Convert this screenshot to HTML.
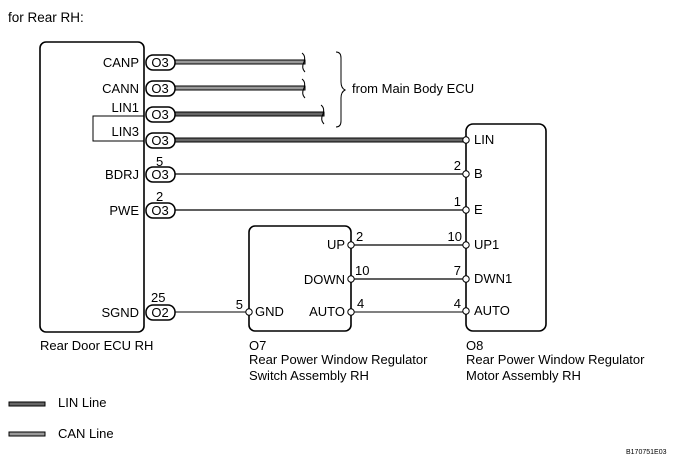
<!DOCTYPE html>
<html><head><meta charset="utf-8"><style>
html,body{margin:0;padding:0;background:#fff;}
svg{display:block;font-family:"Liberation Sans",Arial,sans-serif;}
text{font-size:13px;fill:#000;}
</style></head><body>
<svg width="680" height="461" viewBox="0 0 680 461">
<text x="8" y="22" style="font-size:13.5px">for Rear RH:</text>
<!-- ECU box -->
<rect x="40" y="42" width="104" height="290" rx="6" fill="none" stroke="#000" stroke-width="1.6"/>
<rect x="93" y="116" width="51" height="25" fill="none" stroke="#000" stroke-width="1"/>
<g text-anchor="end">
<text x="139" y="67">CANP</text>
<text x="139" y="93">CANN</text>
<text x="139" y="112">LIN1</text>
<text x="139" y="136">LIN3</text>
<text x="139" y="179">BDRJ</text>
<text x="139" y="215">PWE</text>
<text x="139" y="317">SGND</text>
</g>
<text x="156" y="166">5</text>
<text x="156" y="201">2</text>
<text x="151" y="302">25</text>
<!-- wires -->
<g fill="none" stroke="#000">
<rect x="175" y="60" width="130" height="4" fill="#999" stroke-width="1"/>
<rect x="175" y="86" width="130" height="4" fill="#999" stroke-width="1"/>
<rect x="175" y="112" width="149" height="4" fill="#666" stroke-width="1"/>
<rect x="175" y="138" width="291" height="4" fill="#666" stroke-width="1"/>
<line x1="175" y1="174" x2="466" y2="174" stroke-width="1.2"/>
<line x1="175" y1="210" x2="466" y2="210" stroke-width="1.2"/>
<line x1="175" y1="312" x2="249" y2="312" stroke-width="1"/>
<line x1="350" y1="245" x2="466" y2="245" stroke-width="1.2"/>
<line x1="350" y1="279" x2="466" y2="279" stroke-width="1.2"/>
<line x1="350" y1="312" x2="466" y2="312" stroke-width="1"/>
<path d="M302 53 q4 3 2 9 q-3 6 1 10" stroke-width="1"/>
<path d="M302 79 q4 3 2 9 q-3 6 1 10" stroke-width="1"/>
<path d="M321 105 q4 3 2 9 q-3 6 1 10" stroke-width="1"/>
<path d="M336 52 q5 0 5 6 v24 q0 6 4 8 q-4 2 -4 8 v23 q0 6 -5 6" stroke-width="1"/>
</g>
<text x="352" y="93">from Main Body ECU</text>
<g fill="#fff" stroke="#000" stroke-width="1.5">
<rect x="146" y="55" width="29" height="15" rx="7"/>
<rect x="146" y="81" width="29" height="15" rx="7"/>
<rect x="146" y="107" width="29" height="15" rx="7"/>
<rect x="146" y="133" width="29" height="15" rx="7"/>
<rect x="146" y="167" width="29" height="15" rx="7"/>
<rect x="146" y="203" width="29" height="15" rx="7"/>
<rect x="146" y="305" width="29" height="15" rx="7"/>
</g>
<g text-anchor="middle">
<text x="160" y="67">O3</text><text x="160" y="93">O3</text><text x="160" y="119">O3</text>
<text x="160" y="145">O3</text><text x="160" y="179">O3</text><text x="160" y="215">O3</text>
<text x="160" y="317">O2</text>
</g>
<text x="40" y="350">Rear Door ECU RH</text>
<rect x="249" y="226" width="102" height="105" rx="6" fill="none" stroke="#000" stroke-width="1.6"/>
<rect x="466" y="124" width="80" height="207" rx="7" fill="none" stroke="#000" stroke-width="1.6"/>
<g fill="#fff" stroke="#000" stroke-width="1">
<circle cx="249" cy="312" r="3.2"/>
<circle cx="351" cy="245" r="3.2"/><circle cx="351" cy="279" r="3.2"/><circle cx="351" cy="312" r="3.2"/>
<circle cx="466" cy="140" r="3.2"/><circle cx="466" cy="174" r="3.2"/><circle cx="466" cy="210" r="3.2"/>
<circle cx="466" cy="245" r="3.2"/><circle cx="466" cy="279" r="3.2"/><circle cx="466" cy="311" r="3.2"/>
</g>
<text x="255" y="316">GND</text>
<g text-anchor="end">
<text x="345" y="249">UP</text><text x="345" y="284">DOWN</text><text x="345" y="316">AUTO</text>
<text x="243" y="309">5</text>
<text x="461" y="170">2</text><text x="461" y="206">1</text><text x="462" y="241">10</text>
<text x="461" y="275">7</text><text x="461" y="308">4</text>
</g>
<text x="356" y="241">2</text><text x="355" y="275">10</text><text x="357" y="308">4</text>
<text x="474" y="144">LIN</text><text x="474" y="178">B</text><text x="474" y="214">E</text>
<text x="474" y="249">UP1</text><text x="474" y="283">DWN1</text><text x="474" y="315">AUTO</text>
<text x="249" y="350">O7</text>
<text x="249" y="364">Rear Power Window Regulator</text>
<text x="249" y="380">Switch Assembly RH</text>
<text x="466" y="350">O8</text>
<text x="466" y="364">Rear Power Window Regulator</text>
<text x="466" y="380">Motor Assembly RH</text>
<rect x="9" y="402" width="36" height="4" fill="#666" stroke="#000" stroke-width="1"/>
<text x="58" y="407">LIN Line</text>
<rect x="9" y="432" width="36" height="4" fill="#999" stroke="#000" stroke-width="1"/>
<text x="58" y="438">CAN Line</text>
<text x="626" y="454" style="font-size:7px">B170751E03</text>
</svg>
</body></html>
